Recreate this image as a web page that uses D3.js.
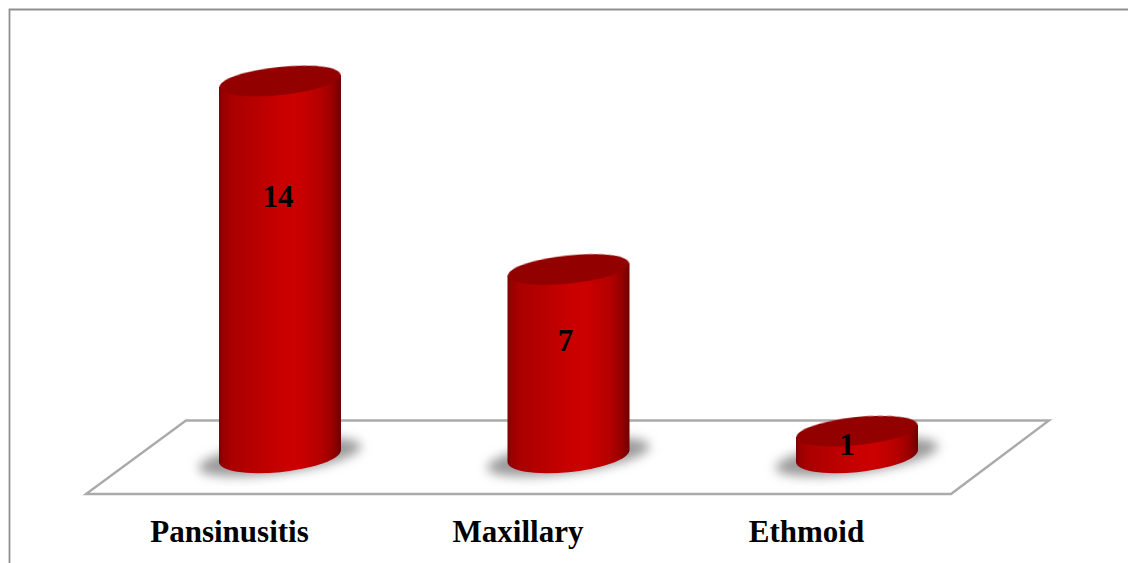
<!DOCTYPE html>
<html>
<head>
<meta charset="utf-8">
<script src="https://cdn.jsdelivr.net/npm/d3@7"></script>
<style>
html,body{margin:0;padding:0;background:#fff;overflow:hidden}
svg{display:block}
text{font-family:"Liberation Serif","Times New Roman",serif;font-weight:bold;fill:#000}
</style>
</head>
<body>
<svg id="chart" width="1128" height="563"></svg>
<script>
const categories = ["Pansinusitis", "Maxillary", "Ethmoid"];
const cases = [14, 7, 1];

const svg = d3.select("#chart");
const x = d3.scalePoint().domain(categories).range([280, 857]);
const y = d3.scaleLinear().domain([0, 14]).range([458, 81]);

// Cylinder cross-section: a slightly tilted ellipse, a little rounder at the base
const rx = 61, ry = 14, baseRy = 16, baseLift = 2, tilt = -6;
const halfWidth = 61, tangentDrop = 6;

const defs = svg.append("defs");
const body = defs.append("linearGradient").attr("id", "body");
[[0, "#7a0000"], [0.03, "#980000"], [0.1, "#aa0000"], [0.3, "#b80000"],
 [0.5, "#c80000"], [0.64, "#cc0000"], [0.84, "#b40000"], [0.94, "#940000"], [1, "#6e0000"]]
  .forEach(([o, c]) => body.append("stop").attr("offset", o).attr("stop-color", c));
defs.append("filter").attr("id", "soft")
  .attr("x", "-30%").attr("y", "-80%").attr("width", "160%").attr("height", "260%")
  .append("feGaussianBlur").attr("stdDeviation", 5.5);
defs.append("filter").attr("id", "edge")
  .append("feGaussianBlur").attr("stdDeviation", 0.7);

// Frame: top and left rules only
svg.append("path").attr("d", "M9.5,563V9.5H1128")
  .attr("fill", "none").attr("stroke", "#8f8f8f").attr("stroke-width", 1.8);

// Floor of the plot
svg.append("path")
  .attr("d", "M86,494H951L1049,420.5H186Z")
  .attr("fill", "#fff").attr("stroke", "#aaaaaa").attr("stroke-width", 2.4)
  .attr("stroke-linejoin", "miter");

const bars = svg.selectAll("g.bar")
  .data(categories.map((c, i) => ({ c, v: cases[i] })))
  .join("g").attr("class", "bar");

// Soft cast shadow on the floor
bars.append("ellipse")
  .attr("cx", d => x(d.c)).attr("cy", y(0) - 1)
  .attr("rx", 82).attr("ry", 16)
  .attr("transform", d => `rotate(${tilt * 1.3} ${x(d.c)} ${y(0)})`)
  .attr("fill", "#9a9a9a").attr("filter", "url(#soft)");

bars.append("path")
  .attr("d", d => {
    const cx = x(d.c), top = y(d.v), base = y(0) - baseLift;
    return `M${cx - halfWidth},${top + tangentDrop}` +
      `L${cx - halfWidth},${base + tangentDrop}` +
      `A${rx},${baseRy} ${tilt} 0 0 ${cx + halfWidth},${base - tangentDrop}` +
      `L${cx + halfWidth},${top - tangentDrop}Z`;
  })
  .attr("fill", "url(#body)").attr("filter", "url(#edge)");

bars.append("ellipse")
  .attr("cx", d => x(d.c)).attr("cy", d => y(d.v))
  .attr("rx", rx).attr("ry", ry)
  .attr("transform", d => `rotate(${tilt} ${x(d.c)} ${y(d.v)})`)
  .attr("fill", "#920000").attr("filter", "url(#edge)");

// Value labels sit inside each cylinder, at a fixed drop below the cap
const labelDrop = [115.5, 71, 14];
bars.append("text")
  .attr("x", (d, i) => x(d.c) - [2, 3, 10][i])
  .attr("y", (d, i) => y(d.v) + labelDrop[i])
  .attr("dy", "0.33em")
  .attr("text-anchor", "middle").attr("font-size", 31)
  .text(d => d.v);

// Category axis, set left of the cylinders
const axis = svg.append("g").attr("transform", "translate(-51,520)")
  .call(d3.axisBottom(x).tickSize(0).tickPadding(0));
axis.select(".domain").remove();
axis.selectAll("text")
  .attr("font-size", 31).style("font-family", '"Liberation Serif",serif')
  .style("font-weight", "bold").attr("fill", "#000");
</script>
</body>
</html>
